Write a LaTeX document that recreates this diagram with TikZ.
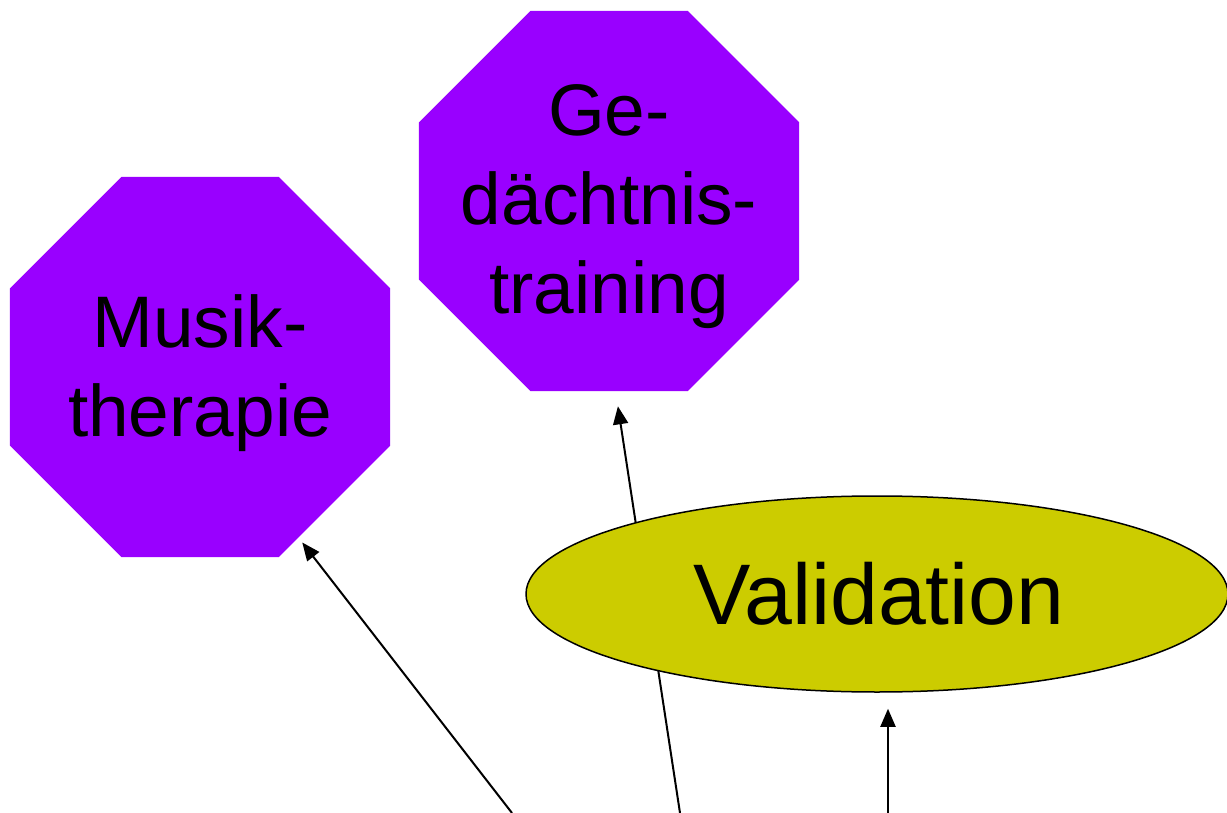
\documentclass[tikz,border=0pt]{standalone}
\usepackage{fontspec}
\setmainfont{Liberation Sans}
\usetikzlibrary{positioning}
\usetikzlibrary{shapes.geometric}
\usetikzlibrary{arrows.meta}
\usetikzlibrary{backgrounds}

\definecolor{achteckviolett}{RGB}{153,0,255}
\definecolor{ellipsengelb}{RGB}{204,204,0}

\begin{document}
\begin{tikzpicture}[x=0.5pt,y=-0.5pt,
    massnahme/.style={regular polygon,regular polygon sides=8,fill=achteckviolett,inner sep=0pt,minimum size=205.7pt},
    schrift/.style={font=\fontsize{36.5}{44.5}\selectfont,align=center,inner sep=0pt,yshift=-3pt},
    methode/.style={ellipse,draw=black,line width=0.75pt,fill=ellipsengelb,minimum width=351pt,minimum height=98pt,inner sep=0pt,font=\fontsize{43}{52}\selectfont},
    pfeil/.style={line width=1pt,-{Triangle[length=9pt,width=7.5pt]}}]
            \useasboundingbox (0,0) rectangle (1227,813);
            \clip (0,0) rectangle (1227,813);

            \node[massnahme] (musik) at (200,367) {};
            \node[schrift] (musiktext) at (musik) {Musik-\\therapie};
            \node[massnahme] (gedaechtnis) at (609,201) {};
            \node[schrift] (gedaechtnistext) at (gedaechtnis) {Ge-\\dächtnis-\\training};
            \node[methode] (validation) at (877,594) {\hspace*{2pt}Validation};

            \coordinate (quelleA) at (512,813);
            \coordinate (quelleB) at (680,813);
            \coordinate (quelleC) at (888,813);

            \begin{scope}[on background layer]
                \draw[pfeil,shorten >=3pt] (quelleA) -- (musik.-60);
                \draw[pfeil,shorten >=7.5pt] (quelleB) -- (gedaechtnis.-88);
                \draw[pfeil,shorten >=8pt] (quelleC) -- (quelleC |- validation.south);
            \end{scope}
        \end{tikzpicture}
\end{document}
